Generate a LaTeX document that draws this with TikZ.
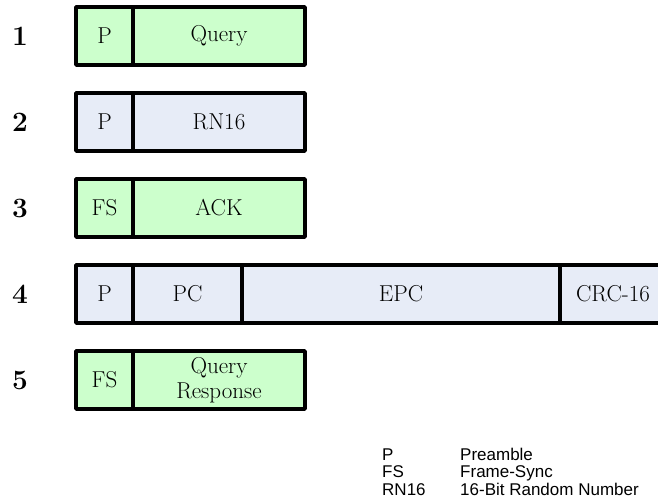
\documentclass[tikz,border=0pt]{standalone}
\usepackage{fontspec}
\newfontfamily\legendfont{Liberation Sans}
\usetikzlibrary{positioning}

\definecolor{cmdgreen}{RGB}{204,255,204}
\definecolor{tagblue}{RGB}{231,236,247}

\tikzset{
  field/.style={draw, line width=3.5pt, line join=round, minimum height=58pt,
    inner sep=0pt, outer sep=0pt, anchor=north west, align=center,
    font=\fontsize{23}{25}\selectfont},
  cmd/.style={field, fill=cmdgreen},
  reply/.style={field, fill=tagblue},
  rownum/.style={font=\fontsize{28}{30}\selectfont\bfseries},
  legend/.style={anchor=base west, inner sep=0pt,
    font=\legendfont\fontsize{17}{19}\selectfont}
}

\begin{document}
\begin{tikzpicture}[x=1pt,y=-1pt]
    \useasboundingbox (0,0) rectangle (658,501);

    % Nummern
    \foreach \i in {1,...,5}
      \node[rownum] (n\i) at (20,{36+86*(\i-1)}) {\i};

    % 1: Query
    \node[cmd, minimum width=57pt] (q1p) at (76,7) {P};
    \node[cmd, minimum width=172pt, right=0pt of q1p] (q1cmd) {Query};

    % 2: RN16
    \node[reply, minimum width=57pt] (r2p) at (76,93) {P};
    \node[reply, minimum width=172pt, right=0pt of r2p] (r2rn) {RN16};

    % 3: ACK
    \node[cmd, minimum width=57pt] (a3fs) at (76,179) {FS};
    \node[cmd, minimum width=172pt, right=0pt of a3fs] (a3cmd) {ACK};

    % 4: PC, EPC, CRC-16
    \node[reply, minimum width=57pt] (e4p) at (76,265) {P};
    \node[reply, minimum width=109pt, right=0pt of e4p] (e4pc) {PC};
    \node[reply, minimum width=318pt, right=0pt of e4pc] (e4epc) {EPC};
    \node[reply, minimum width=106pt, right=0pt of e4epc] (e4crc) {CRC-16};

    % 5: Query Response
    \node[cmd, minimum width=57pt] (q5fs) at (76,351) {FS};
    \node[cmd, minimum width=172pt, right=0pt of q5fs] (q5cmd) {Query\\Response};

    % Legende
    \node[legend] (kp) at (382,460) {P};
    \node[legend] (kpd) at (460,460) {Preamble};
    \node[legend] (kfs) at (382,477.5) {FS};
    \node[legend] (kfsd) at (460,477.5) {Frame-Sync};
    \node[legend] (krn) at (382,495) {RN16};
    \node[legend] (krnd) at (460,495) {16-Bit Random Number};
\end{tikzpicture}
\end{document}
